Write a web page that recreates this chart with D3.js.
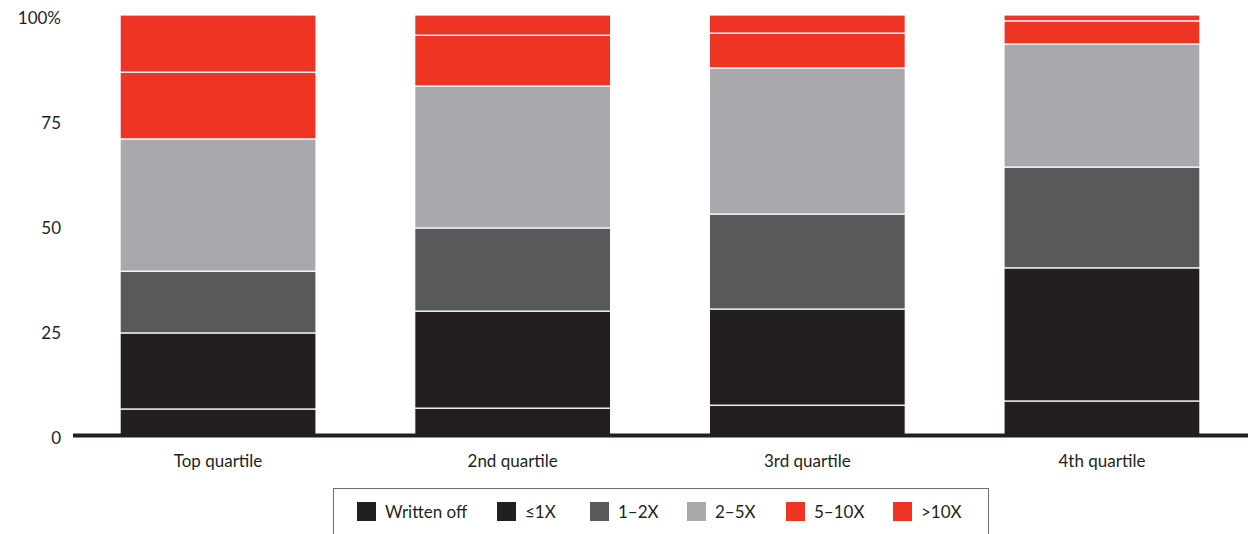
<!DOCTYPE html>
<html>
<head>
<meta charset="utf-8">
<script src="https://cdn.jsdelivr.net/npm/d3@7"></script>
<style>
  body { margin: 0; background: #fff; }
  svg { display: block; font-family: Lato, 'Open Sans', sans-serif; }
</style>
</head>
<body>
<div id="chart"></div>
<script>
const categories = ['Top quartile', '2nd quartile', '3rd quartile', '4th quartile']
const seriesNames = ['Written off', '≤1X', '1–2X', '2–5X', '5–10X', '>10X']
const writtenOff = [6.2, 6.4, 7.1, 8.1]
const upTo1x = [18.1, 23.1, 22.9, 31.7]
const oneTo2x = [14.7, 19.8, 22.6, 24.0]
const twoTo5x = [31.5, 33.8, 34.8, 29.3]
const fiveTo10x = [15.9, 12.1, 8.3, 5.5]
const over10x = [13.6, 4.8, 4.3, 1.4]
const yTicks = [0, 25, 50, 75, 100]
const colors = ['#231f20', '#231f20', '#58595b', '#a7a9ac', '#ee3524', '#ee3524']

const W = 1248, H = 534
const series = [writtenOff, upTo1x, oneTo2x, twoTo5x, fiveTo10x, over10x]
const rows = categories.map((c, i) => {
  const r = { cat: c }
  seriesNames.forEach((s, j) => { r[s] = series[j][i] })
  return r
})
const stacked = d3.stack().keys(seriesNames)(rows)

const svg = d3.select('#chart').append('svg')
  .attr('width', W).attr('height', H)

const x = d3.scaleBand().domain(categories).range([70, 1250]).paddingInner(0.335).paddingOuter(0.17)
const y = d3.scaleLinear().domain([0, 100]).range([435, 15])

// bars
svg.append('g')
  .selectAll('g')
  .data(stacked)
  .enter()
  .append('g')
  .attr('fill', (d, i) => colors[i])
  .selectAll('rect')
  .data(d => d)
  .enter()
  .append('rect')
  .attr('x', d => x(d.data.cat))
  .attr('width', x.bandwidth())
  .attr('y', d => y(d[1]))
  .attr('height', d => y(d[0]) - y(d[1]))
  .attr('stroke', '#fff')
  .attr('stroke-width', 1.2)

// baseline
svg.append('line')
  .attr('x1', 73).attr('x2', W)
  .attr('y1', 435.5).attr('y2', 435.5)
  .attr('stroke', '#231f20').attr('stroke-width', 4)

// y tick labels
svg.append('g')
  .selectAll('text')
  .data(yTicks)
  .enter()
  .append('text')
  .attr('x', 61)
  .attr('y', d => y(d) + 9)
  .attr('text-anchor', 'end')
  .attr('font-size', 17)
  .attr('fill', '#231f20')
  .text(d => d === 100 ? '100%' : d)

// x labels
svg.append('g')
  .selectAll('text')
  .data(categories)
  .enter()
  .append('text')
  .attr('x', d => x(d) + x.bandwidth() / 2)
  .attr('y', 467)
  .attr('text-anchor', 'middle')
  .attr('font-size', 17)
  .attr('fill', '#231f20')
  .text(d => d)

// legend
const legend = svg.append('g')
legend.append('rect')
  .attr('x', 333.5).attr('y', 488.5)
  .attr('width', 655).attr('height', 60)
  .attr('fill', 'none').attr('stroke', '#6d6e71').attr('stroke-width', 1)

const legendX = [357, 497, 590, 687, 786, 893]
const item = legend.selectAll('g.item')
  .data(seriesNames)
  .enter()
  .append('g')
  .attr('class', 'item')
  .attr('transform', (d, i) => `translate(${legendX[i]},502)`)
item.append('rect')
  .attr('width', 19).attr('height', 19)
  .attr('fill', (d, i) => colors[i])
item.append('text')
  .attr('x', 28).attr('y', 16)
  .attr('font-size', 17)
  .attr('fill', '#231f20')
  .text(d => d)
</script>
</body>
</html>
